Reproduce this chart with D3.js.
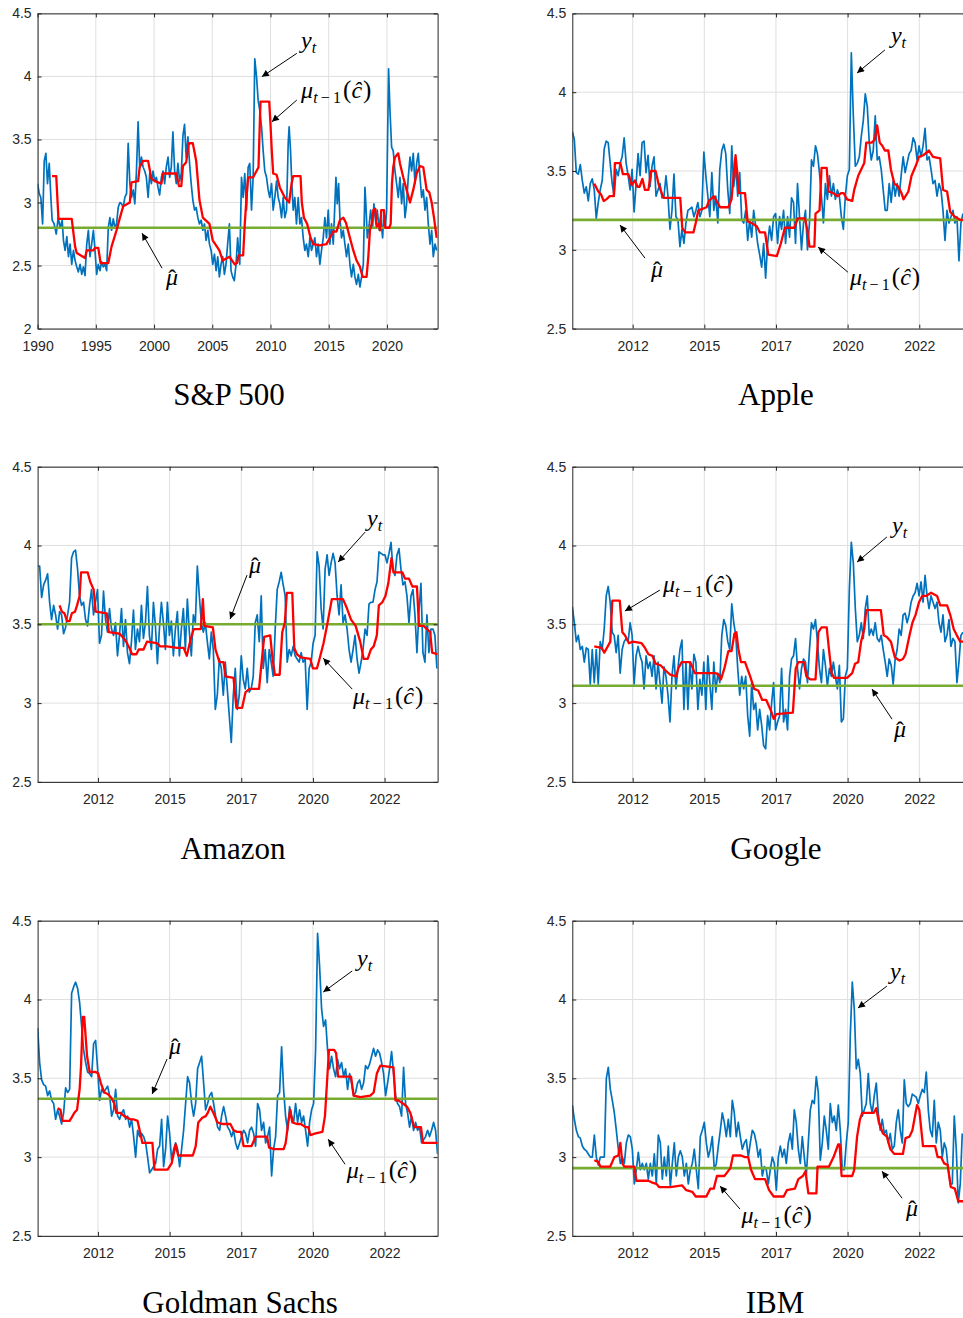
<!DOCTYPE html>
<html>
<head>
<meta charset="utf-8">
<script src="https://cdn.jsdelivr.net/npm/d3@7/dist/d3.min.js"></script>
<style>
html,body{margin:0;padding:0;background:#fff;}
svg{display:block;}
.tick text{font-family:"Liberation Sans",Arial,sans-serif;font-size:14px;fill:#262626;}
.tick line{stroke:#262626;}
.domain{stroke:#262626;}
</style>
</head>
<body>
<svg id="chart" width="963" height="1318"></svg>
<script>
// ---------------- DATA ----------------
const spxXTicks = [1990,1995,2000,2005,2010,2015,2020];
const spxXLabels = ["1990","1995","2000","2005","2010","2015","2020"];
const spxYTicks = [2,2.5,3,3.5,4,4.5];
const spxYLabels = ["2","2.5","3","3.5","4","4.5"];
const stockXTicks = [2012.5,2015,2017.5,2020,2022.5];
const stockXLabels = ["2012","2015","2017","2020","2022"];
const stockYTicks = [2.5,3,3.5,4,4.5];
const stockYLabels = ["2.5","3","3.5","4","4.5"];
const titles = ["S&P 500","Apple","Amazon","Google","Goldman Sachs","IBM"];

// S&P 500: [year, value]
const spxBlue = [[1990.00,3.15],[1990.14,3.07],[1990.28,3.04],[1990.43,2.83],[1990.57,3.33],[1990.71,3.39],[1990.85,3.15],[1991.00,3.31],[1991.14,3.04],[1991.25,2.86],[1991.42,2.83],[1991.60,2.75],[1991.77,2.88],[1991.94,2.80],[1992.11,2.86],[1992.22,2.70],[1992.36,2.62],[1992.51,2.73],[1992.65,2.57],[1992.79,2.67],[1992.93,2.51],[1993.08,2.62],[1993.22,2.54],[1993.36,2.49],[1993.50,2.45],[1993.65,2.51],[1993.79,2.43],[1993.93,2.49],[1994.07,2.42],[1994.22,2.67],[1994.36,2.78],[1994.50,2.57],[1994.64,2.67],[1994.79,2.78],[1994.93,2.62],[1995.07,2.43],[1995.21,2.51],[1995.36,2.46],[1995.50,2.53],[1995.64,2.49],[1995.78,2.51],[1995.93,2.46],[1996.07,2.80],[1996.21,2.88],[1996.35,2.78],[1996.50,2.87],[1996.64,2.80],[1996.78,2.83],[1996.92,2.96],[1997.07,3.00],[1997.21,2.99],[1997.35,2.96],[1997.49,3.04],[1997.64,3.07],[1997.78,3.47],[1997.92,3.15],[1998.06,3.04],[1998.21,3.10],[1998.35,2.99],[1998.49,3.25],[1998.63,3.64],[1998.77,3.28],[1998.92,3.36],[1999.06,3.28],[1999.20,3.25],[1999.34,3.20],[1999.49,3.04],[1999.63,3.23],[1999.77,3.15],[1999.91,3.25],[2000.06,3.17],[2000.20,3.20],[2000.34,3.12],[2000.48,3.06],[2000.63,3.20],[2000.77,3.25],[2000.91,3.15],[2001.05,3.28],[2001.20,3.36],[2001.34,3.20],[2001.48,3.28],[2001.62,3.56],[2001.77,3.25],[2001.91,3.15],[2002.05,3.31],[2002.19,3.17],[2002.34,3.23],[2002.48,3.53],[2002.62,3.62],[2002.76,3.36],[2002.91,3.52],[2003.05,3.31],[2003.19,3.15],[2003.33,3.02],[2003.48,2.94],[2003.62,2.96],[2003.76,2.88],[2003.90,2.83],[2004.05,2.86],[2004.19,2.78],[2004.33,2.83],[2004.47,2.70],[2004.62,2.78],[2004.76,2.67],[2004.90,2.62],[2005.04,2.51],[2005.19,2.59],[2005.33,2.46],[2005.47,2.57],[2005.61,2.41],[2005.75,2.51],[2005.90,2.57],[2006.04,2.43],[2006.18,2.51],[2006.32,2.67],[2006.47,2.83],[2006.61,2.46],[2006.75,2.41],[2006.89,2.38],[2007.04,2.51],[2007.18,2.72],[2007.36,2.51],[2007.51,3.20],[2007.65,3.04],[2007.79,3.23],[2007.94,2.94],[2008.08,3.28],[2008.22,3.31],[2008.37,2.94],[2008.51,3.20],[2008.65,4.14],[2008.80,4.00],[2008.94,3.81],[2009.08,3.73],[2009.23,3.60],[2009.37,3.41],[2009.51,3.25],[2009.66,3.20],[2009.80,3.10],[2009.94,3.04],[2010.09,3.15],[2010.23,2.94],[2010.37,3.04],[2010.52,3.17],[2010.66,3.04],[2010.80,2.99],[2010.95,2.88],[2011.09,3.04],[2011.23,2.88],[2011.38,2.94],[2011.52,3.47],[2011.60,3.60],[2011.72,3.41],[2011.83,3.15],[2011.95,2.94],[2012.09,3.04],[2012.23,2.83],[2012.38,3.04],[2012.52,2.83],[2012.66,2.88],[2012.81,2.72],[2012.95,2.62],[2013.09,2.67],[2013.24,2.57],[2013.38,2.72],[2013.52,2.62],[2013.67,2.67],[2013.81,2.72],[2013.95,2.57],[2014.10,2.67],[2014.24,2.51],[2014.38,2.62],[2014.53,2.72],[2014.67,2.88],[2014.81,2.72],[2014.96,2.94],[2015.10,2.67],[2015.24,2.83],[2015.39,2.67],[2015.62,3.20],[2015.73,2.99],[2015.85,3.15],[2015.96,2.88],[2016.10,2.72],[2016.25,2.78],[2016.39,2.67],[2016.53,2.57],[2016.68,2.67],[2016.82,2.51],[2016.96,2.41],[2017.11,2.51],[2017.25,2.41],[2017.39,2.35],[2017.54,2.43],[2017.68,2.33],[2017.82,2.41],[2017.97,2.51],[2018.11,3.12],[2018.19,2.99],[2018.31,2.72],[2018.48,2.83],[2018.60,2.94],[2018.77,2.80],[2018.88,2.99],[2019.05,2.83],[2019.17,2.94],[2019.34,2.78],[2019.46,2.88],[2019.63,2.72],[2019.74,2.94],[2019.86,2.80],[2019.97,2.94],[2020.14,4.06],[2020.26,3.73],[2020.40,3.44],[2020.54,3.41],[2020.69,3.25],[2020.83,3.15],[2020.97,3.04],[2021.12,3.20],[2021.26,2.99],[2021.40,3.15],[2021.55,2.88],[2021.69,2.99],[2021.83,3.20],[2021.98,3.36],[2022.12,3.25],[2022.26,3.39],[2022.41,3.15],[2022.55,3.31],[2022.69,3.39],[2022.84,3.20],[2022.98,3.04],[2023.12,3.10],[2023.27,2.94],[2023.41,3.04],[2023.55,2.83],[2023.70,2.67],[2023.84,2.78],[2023.98,2.57],[2024.13,2.67],[2024.27,2.62]];
const spxRed = [[1991.23,3.21],[1991.60,3.21],[1991.79,2.87],[1992.93,2.87],[1993.22,2.65],[1993.36,2.60],[1994.07,2.56],[1994.22,2.62],[1994.79,2.62],[1994.93,2.64],[1995.21,2.64],[1995.41,2.52],[1996.07,2.52],[1996.35,2.65],[1996.78,2.78],[1997.07,2.88],[1997.35,2.97],[1997.92,3.00],[1998.06,3.16],[1998.63,3.17],[1998.77,3.28],[1999.06,3.33],[1999.49,3.33],[1999.77,3.19],[2000.06,3.17],[2000.63,3.15],[2000.77,3.23],[2001.91,3.23],[2002.14,3.13],[2002.34,3.13],[2002.48,3.29],[2002.76,3.32],[2002.99,3.47],[2003.33,3.47],[2003.62,3.33],[2003.90,3.02],[2004.19,2.88],[2004.76,2.83],[2005.04,2.70],[2005.61,2.62],[2005.90,2.54],[2006.47,2.57],[2006.93,2.51],[2007.13,2.52],[2007.25,2.58],[2007.65,2.58],[2007.79,2.83],[2007.94,3.04],[2008.08,3.20],[2008.51,3.20],[2008.80,3.25],[2008.97,3.28],[2009.03,3.47],[2009.14,3.80],[2009.89,3.80],[2010.00,3.62],[2010.11,3.41],[2010.23,3.23],[2010.52,3.22],[2010.80,3.12],[2011.23,3.04],[2011.60,3.00],[2011.81,3.15],[2011.95,3.21],[2012.58,3.21],[2012.69,3.00],[2012.87,2.88],[2013.15,2.83],[2013.44,2.72],[2013.67,2.67],[2014.24,2.66],[2014.81,2.67],[2015.10,2.72],[2015.39,2.77],[2015.67,2.77],[2015.96,2.86],[2016.25,2.88],[2016.48,2.84],[2016.82,2.72],[2017.11,2.62],[2017.39,2.54],[2017.68,2.49],[2017.91,2.41],[2018.25,2.41],[2018.40,2.57],[2018.54,2.78],[2018.68,2.83],[2018.83,2.94],[2019.00,2.95],[2019.11,2.81],[2019.28,2.83],[2019.40,2.78],[2019.51,2.94],[2019.74,2.94],[2019.86,2.80],[2020.20,2.80],[2020.32,2.83],[2020.43,3.15],[2020.54,3.28],[2020.69,3.36],[2020.97,3.39],[2021.12,3.31],[2021.40,3.20],[2021.69,3.10],[2021.98,3.00],[2022.26,3.10],[2022.55,3.23],[2022.84,3.29],[2023.12,3.28],[2023.41,3.10],[2023.64,3.08],[2023.84,3.00],[2024.04,2.88],[2024.27,2.72]];
const spxMuHat = 2.80;

// Stocks: blue series sampled evenly over [start, end] years
const appleSpan = [2010.395, 2024.023];
const appleBlue = [3.75,3.70,3.49,3.48,3.54,3.44,3.36,3.40,3.31,3.42,3.45,3.38,3.20,3.30,3.38,3.44,3.64,3.69,3.68,3.55,3.42,3.34,3.51,3.47,3.55,3.59,3.71,3.55,3.47,3.38,3.51,3.24,3.42,3.61,3.47,3.68,3.69,3.49,3.60,3.40,3.53,3.59,3.34,3.38,3.42,3.33,3.34,3.47,3.34,3.13,3.25,3.48,3.21,3.19,3.02,3.13,3.04,3.17,3.25,3.26,3.27,3.21,3.25,3.30,3.21,3.25,3.62,3.47,3.34,3.21,3.49,3.25,3.34,3.17,3.51,3.63,3.67,3.61,3.38,3.23,3.66,3.40,3.53,3.34,3.49,3.19,3.17,3.25,3.06,3.19,3.08,3.25,3.15,3.04,2.97,2.89,3.04,2.82,3.04,3.15,3.06,3.21,3.23,3.04,3.21,3.13,3.25,3.04,3.21,3.08,3.33,3.30,3.04,3.42,3.21,3.00,3.17,3.25,3.00,3.17,3.57,3.53,3.66,3.61,3.49,3.34,3.17,3.42,3.32,3.47,3.34,3.42,3.32,3.38,3.34,3.21,3.13,3.34,3.47,3.51,4.25,3.85,3.53,3.55,3.59,3.72,3.82,3.99,3.91,3.68,3.57,3.63,3.85,3.57,3.59,3.51,3.38,3.25,3.25,3.42,3.30,3.44,3.34,3.42,3.34,3.47,3.59,3.49,3.55,3.61,3.63,3.71,3.68,3.57,3.66,3.59,3.66,3.77,3.57,3.59,3.51,3.42,3.44,3.34,3.42,3.38,3.25,3.06,3.25,3.17,3.21,3.25,3.17,3.21,2.93,3.17,3.23];
const appleRed = [[2011.16,3.42],[2011.30,3.37],[2011.40,3.35],[2011.49,3.31],[2011.58,3.32],[2011.70,3.34],[2011.84,3.34],[2011.88,3.55],[2012.07,3.55],[2012.16,3.48],[2012.35,3.48],[2012.47,3.41],[2012.58,3.44],[2012.67,3.40],[2012.74,3.40],[2012.84,3.45],[2012.93,3.38],[2013.05,3.38],[2013.14,3.50],[2013.30,3.50],[2013.40,3.42],[2013.47,3.38],[2013.58,3.33],[2014.16,3.33],[2014.23,3.14],[2014.33,3.11],[2014.62,3.11],[2014.70,3.17],[2014.79,3.25],[2014.93,3.26],[2015.08,3.27],[2015.16,3.31],[2015.33,3.34],[2015.43,3.31],[2015.55,3.27],[2015.84,3.27],[2015.95,3.32],[2016.02,3.47],[2016.09,3.60],[2016.16,3.47],[2016.21,3.36],[2016.42,3.36],[2016.51,3.18],[2016.65,3.17],[2016.83,3.15],[2016.94,3.11],[2017.12,3.11],[2017.23,2.97],[2017.53,2.96],[2017.67,3.04],[2017.81,3.14],[2018.14,3.14],[2018.26,3.20],[2018.51,3.20],[2018.60,3.12],[2018.67,3.02],[2018.84,3.02],[2018.88,3.23],[2019.02,3.25],[2019.09,3.52],[2019.27,3.52],[2019.33,3.37],[2019.50,3.36],[2019.65,3.34],[2019.77,3.36],[2019.86,3.36],[2019.98,3.32],[2020.16,3.31],[2020.23,3.38],[2020.37,3.47],[2020.58,3.55],[2020.65,3.68],[2020.84,3.68],[2020.95,3.70],[2021.03,3.79],[2021.12,3.68],[2021.21,3.66],[2021.30,3.63],[2021.42,3.63],[2021.51,3.51],[2021.63,3.42],[2021.77,3.40],[2021.88,3.36],[2021.95,3.32],[2022.12,3.37],[2022.23,3.47],[2022.37,3.53],[2022.49,3.59],[2022.64,3.60],[2022.84,3.63],[2022.98,3.59],[2023.23,3.58],[2023.33,3.38],[2023.47,3.37],[2023.58,3.24],[2023.74,3.21],[2023.92,3.19],[2024.10,3.19]];
const appleMuHat = 3.19;

const amazonSpan = [2010.395, 2024.326];
const amazonBlue = [3.87,3.87,3.67,3.75,3.78,3.82,3.64,3.53,3.62,3.56,3.47,3.58,3.56,3.44,3.48,3.56,3.64,3.92,3.96,3.97,3.85,3.68,3.62,3.64,3.53,3.49,3.62,3.72,3.56,3.64,3.72,3.38,3.43,3.71,3.53,3.45,3.60,3.47,3.43,3.51,3.30,3.43,3.60,3.36,3.53,3.32,3.25,3.39,3.59,3.34,3.47,3.39,3.62,3.41,3.51,3.74,3.43,3.34,3.64,3.49,3.25,3.47,3.64,3.51,3.34,3.64,3.43,3.52,3.30,3.47,3.58,3.30,3.47,3.60,3.34,3.66,3.45,3.30,3.56,3.51,3.87,3.68,3.51,3.45,3.51,3.39,3.28,3.45,3.34,2.96,3.05,3.28,3.22,3.05,3.26,3.09,2.92,2.75,3.05,3.22,2.96,3.05,3.30,3.15,3.09,3.22,3.07,3.09,3.17,3.51,3.56,3.39,3.68,3.22,3.34,3.13,3.34,3.26,3.17,3.47,3.72,3.77,3.83,3.75,3.68,3.26,3.34,3.30,3.36,3.30,3.28,3.26,3.32,3.26,3.28,2.96,3.22,3.26,3.38,3.43,3.96,3.87,3.60,3.47,3.85,3.94,3.81,3.89,3.95,3.89,3.68,3.56,3.75,3.51,3.56,3.47,3.34,3.26,3.34,3.43,3.28,3.19,3.26,3.34,3.47,3.43,3.63,3.64,3.64,3.72,3.77,3.96,3.95,3.94,3.94,3.89,3.95,4.02,3.85,3.81,3.94,3.98,3.85,3.75,3.77,3.68,3.51,3.68,3.72,3.56,3.32,3.58,3.76,3.32,3.26,3.56,3.32,3.47,3.47,3.43,3.22];
const amazonRed = [[2011.16,3.62],[2011.24,3.58],[2011.33,3.57],[2011.42,3.52],[2011.51,3.52],[2011.59,3.57],[2011.70,3.58],[2011.77,3.62],[2011.86,3.68],[2011.91,3.83],[2012.14,3.83],[2012.23,3.77],[2012.35,3.72],[2012.42,3.58],[2012.81,3.57],[2012.88,3.45],[2013.26,3.44],[2013.45,3.40],[2013.60,3.35],[2013.69,3.31],[2013.84,3.31],[2013.92,3.34],[2014.09,3.34],[2014.21,3.39],[2014.56,3.38],[2014.67,3.36],[2014.91,3.36],[2015.26,3.35],[2015.49,3.35],[2015.60,3.30],[2015.74,3.41],[2015.84,3.47],[2016.09,3.47],[2016.16,3.66],[2016.21,3.49],[2016.51,3.48],[2016.60,3.34],[2016.74,3.26],[2016.88,3.26],[2016.95,3.17],[2017.23,3.16],[2017.33,2.97],[2017.53,2.97],[2017.65,3.07],[2017.79,3.09],[2018.12,3.09],[2018.21,3.26],[2018.30,3.42],[2018.51,3.43],[2018.58,3.30],[2018.67,3.18],[2018.84,3.18],[2018.93,3.45],[2019.02,3.51],[2019.09,3.70],[2019.28,3.70],[2019.35,3.35],[2019.44,3.31],[2019.58,3.29],[2019.91,3.28],[2020.00,3.22],[2020.14,3.22],[2020.23,3.28],[2020.37,3.38],[2020.51,3.51],[2020.66,3.66],[2021.05,3.66],[2021.19,3.60],[2021.33,3.53],[2021.49,3.49],[2021.65,3.39],[2021.77,3.28],[2021.91,3.28],[2022.02,3.34],[2022.12,3.36],[2022.23,3.43],[2022.30,3.62],[2022.42,3.64],[2022.53,3.68],[2022.63,3.76],[2022.74,3.92],[2022.81,3.83],[2023.12,3.83],[2023.21,3.79],[2023.35,3.79],[2023.47,3.74],[2023.63,3.74],[2023.70,3.49],[2023.86,3.49],[2023.98,3.47],[2024.09,3.45],[2024.16,3.32],[2024.35,3.31]];
const amazonMuHat = 3.50;

const googleSpan = [2010.395, 2024.023];
const googleBlue = [3.61,3.51,3.39,3.43,3.34,3.36,3.26,3.35,3.34,3.12,3.34,3.13,3.34,3.12,3.39,3.34,3.47,3.68,3.74,3.64,3.45,3.43,3.32,3.43,3.19,3.34,3.39,3.41,3.39,3.51,3.43,3.12,3.30,3.36,3.30,3.26,3.09,3.30,3.22,3.26,3.17,3.30,3.09,3.26,3.13,3.00,3.23,3.17,3.05,2.88,3.17,3.30,3.09,3.22,3.34,3.40,2.96,3.26,2.96,3.26,3.09,3.31,3.26,2.96,3.15,3.05,3.26,2.96,3.30,3.13,2.96,3.26,3.07,3.19,3.13,3.43,3.53,3.49,3.39,3.34,3.63,3.51,3.43,3.22,3.05,3.17,3.09,3.17,2.92,2.79,3.13,2.96,3.00,2.83,2.96,2.86,2.73,2.71,2.92,2.83,3.00,3.13,2.83,2.88,2.92,3.22,2.88,2.96,2.83,3.17,3.28,3.30,3.41,3.22,3.09,3.22,3.28,3.26,3.13,3.34,3.51,3.47,3.53,3.39,3.22,3.13,3.34,3.24,3.11,3.22,3.17,3.26,3.17,3.09,3.24,2.88,2.90,3.17,3.22,3.72,4.02,3.89,3.60,3.39,3.43,3.51,3.41,3.60,3.68,3.43,3.47,3.43,3.51,3.41,3.39,3.43,3.34,3.26,3.17,3.28,3.24,3.12,3.28,3.34,3.47,3.43,3.56,3.57,3.51,3.56,3.64,3.68,3.70,3.76,3.68,3.77,3.64,3.81,3.68,3.60,3.68,3.64,3.60,3.64,3.51,3.45,3.56,3.39,3.43,3.53,3.36,3.41,3.39,3.13,3.26,3.43,3.45];
const googleRed = [[2011.16,3.36],[2011.42,3.35],[2011.51,3.32],[2011.60,3.35],[2011.72,3.39],[2011.79,3.65],[2012.05,3.65],[2012.14,3.45],[2012.23,3.43],[2012.37,3.38],[2012.51,3.39],[2012.81,3.38],[2012.93,3.35],[2013.05,3.31],[2013.19,3.30],[2013.30,3.25],[2013.47,3.24],[2013.63,3.21],[2013.81,3.18],[2014.02,3.17],[2014.09,3.22],[2014.21,3.26],[2014.51,3.26],[2014.67,3.19],[2015.40,3.19],[2015.51,3.18],[2015.58,3.15],[2015.70,3.22],[2015.84,3.33],[2015.95,3.33],[2016.05,3.44],[2016.12,3.45],[2016.19,3.34],[2016.28,3.26],[2016.42,3.26],[2016.60,3.17],[2016.74,3.09],[2016.88,3.08],[2017.02,3.02],[2017.16,3.02],[2017.33,2.95],[2017.42,2.90],[2017.51,2.93],[2018.09,2.94],[2018.19,3.22],[2018.28,3.26],[2018.47,3.26],[2018.56,3.17],[2018.70,3.15],[2018.88,3.15],[2018.98,3.45],[2019.09,3.48],[2019.27,3.48],[2019.35,3.34],[2019.44,3.19],[2019.53,3.16],[2019.98,3.16],[2020.16,3.19],[2020.26,3.25],[2020.37,3.26],[2020.47,3.39],[2020.58,3.47],[2020.65,3.59],[2021.16,3.59],[2021.26,3.43],[2021.37,3.42],[2021.51,3.39],[2021.65,3.29],[2021.81,3.27],[2021.93,3.28],[2022.02,3.31],[2022.16,3.43],[2022.26,3.51],[2022.37,3.56],[2022.49,3.64],[2022.60,3.68],[2022.74,3.68],[2022.91,3.70],[2023.12,3.68],[2023.23,3.62],[2023.47,3.62],[2023.58,3.56],[2023.70,3.47],[2023.81,3.43],[2023.93,3.39],[2024.10,3.39]];
const googleMuHat = 3.11;

const goldmanSpan = [2010.395, 2024.349];
const goldmanBlue = [3.82,3.60,3.49,3.46,3.45,3.39,3.42,3.36,3.34,3.24,3.30,3.26,3.21,3.28,3.44,3.41,3.43,4.04,4.08,4.11,4.07,3.98,3.83,3.68,3.60,3.54,3.53,3.51,3.72,3.74,3.56,3.36,3.43,3.41,3.43,3.45,3.39,3.26,3.30,3.43,3.26,3.24,3.28,3.30,3.24,3.26,3.19,3.24,3.13,3.00,3.17,3.13,3.15,3.13,3.09,3.00,2.90,2.92,2.94,2.96,3.05,3.07,3.24,2.94,3.05,3.26,3.15,2.98,3.05,3.09,3.05,2.94,3.05,3.17,3.34,3.51,3.47,3.34,3.26,3.34,3.56,3.60,3.64,3.47,3.30,3.34,3.39,3.41,3.34,3.26,3.19,3.17,3.26,3.32,3.26,3.19,3.17,3.13,3.17,3.09,3.05,3.09,3.13,3.17,3.15,3.09,3.17,3.19,3.15,3.07,3.34,3.30,3.17,3.22,3.09,3.13,3.19,2.88,3.05,3.13,3.39,3.41,3.70,3.43,3.26,3.17,3.32,3.26,3.22,3.34,3.22,3.30,3.22,3.26,3.17,3.07,3.22,3.30,3.34,3.68,4.42,4.21,3.94,3.83,3.87,3.68,3.56,3.64,3.56,3.51,3.62,3.56,3.60,3.51,3.56,3.43,3.53,3.47,3.39,3.41,3.47,3.49,3.43,3.47,3.58,3.56,3.59,3.64,3.69,3.64,3.68,3.66,3.60,3.53,3.39,3.47,3.56,3.67,3.53,3.39,3.34,3.32,3.26,3.57,3.34,3.28,3.19,3.26,3.17,3.22,3.17,3.19,3.09,3.11,3.13,3.17,3.13,3.17,3.22,3.17,3.02];
const goldmanRed = [[2011.09,3.31],[2011.19,3.30],[2011.26,3.23],[2011.51,3.23],[2011.58,3.25],[2011.67,3.28],[2011.77,3.30],[2011.86,3.43],[2011.91,3.58],[2011.97,3.89],[2012.02,3.89],[2012.12,3.64],[2012.21,3.54],[2012.42,3.54],[2012.51,3.53],[2012.60,3.47],[2012.72,3.41],[2012.84,3.40],[2012.95,3.38],[2013.07,3.34],[2013.14,3.28],[2013.28,3.28],[2013.42,3.26],[2013.63,3.24],[2013.74,3.24],[2013.88,3.23],[2013.98,3.15],[2014.05,3.09],[2014.40,3.09],[2014.47,2.92],[2014.93,2.92],[2015.07,2.96],[2015.21,3.08],[2015.30,3.01],[2015.81,3.01],[2015.91,3.07],[2016.00,3.22],[2016.14,3.25],[2016.26,3.26],[2016.33,3.28],[2016.42,3.32],[2016.53,3.28],[2016.67,3.22],[2016.84,3.21],[2017.12,3.21],[2017.23,3.17],[2017.35,3.16],[2017.49,3.16],[2017.58,3.07],[2017.86,3.07],[2018.00,3.13],[2018.40,3.13],[2018.47,3.06],[2018.65,3.05],[2018.98,3.05],[2019.05,3.09],[2019.14,3.22],[2019.21,3.30],[2019.28,3.22],[2019.44,3.21],[2019.58,3.21],[2019.74,3.19],[2019.84,3.19],[2019.91,3.14],[2020.09,3.15],[2020.33,3.16],[2020.42,3.26],[2020.49,3.47],[2020.56,3.68],[2020.74,3.68],[2020.81,3.66],[2020.88,3.51],[2021.33,3.51],[2021.42,3.39],[2021.65,3.38],[2022.00,3.39],[2022.12,3.41],[2022.23,3.53],[2022.35,3.58],[2022.81,3.57],[2022.88,3.36],[2022.98,3.36],[2023.14,3.34],[2023.28,3.32],[2023.40,3.28],[2023.53,3.19],[2023.77,3.19],[2023.84,3.09],[2024.35,3.09]];
const goldmanMuHat = 3.37;

const ibmSpan = [2010.395, 2024.0];
const ibmBlue = [3.33,3.24,3.17,3.13,3.12,3.07,3.05,3.04,3.02,3.00,3.00,3.14,3.00,2.95,3.00,3.00,3.00,3.50,3.57,3.43,3.36,3.28,3.17,3.05,2.96,3.00,2.96,3.09,3.14,3.13,3.05,2.83,2.92,3.03,2.92,2.96,2.92,2.96,2.86,2.96,2.88,3.02,2.83,3.14,3.09,2.86,3.00,2.88,3.07,2.81,2.96,3.09,2.88,3.00,3.04,3.00,2.88,2.96,2.83,2.92,2.96,3.05,2.92,2.80,3.13,3.17,3.22,3.09,3.00,3.05,3.13,2.92,2.96,3.07,3.17,3.28,3.22,3.13,3.24,3.13,3.36,3.28,3.13,3.22,3.13,3.05,3.09,3.11,3.00,3.09,3.17,3.15,3.09,3.00,3.05,2.88,2.94,2.92,2.83,2.92,3.00,2.96,2.79,3.00,3.07,3.00,3.05,2.96,3.09,3.15,3.05,3.30,3.22,3.05,2.96,3.13,3.00,2.88,3.09,3.30,3.36,3.34,3.51,3.41,2.98,3.09,3.26,3.17,3.05,3.34,3.22,3.26,3.17,3.33,3.17,2.92,2.92,3.09,3.22,3.77,4.11,3.94,3.56,3.62,3.53,3.26,3.30,3.34,3.53,3.34,3.28,3.39,3.47,3.28,3.17,3.24,3.15,3.17,3.09,3.15,3.05,3.07,3.22,3.30,3.17,3.09,3.49,3.34,3.32,3.34,3.40,3.39,3.38,3.34,3.39,3.43,3.41,3.54,3.30,3.17,3.13,3.36,3.09,3.22,3.17,3.00,3.09,3.05,2.92,2.83,2.83,3.26,3.05,2.71,2.83,3.15];
const ibmRed = [[2011.16,2.98],[2011.30,2.97],[2011.37,2.94],[2011.72,2.94],[2011.86,3.00],[2012.00,3.01],[2012.07,3.09],[2012.14,2.96],[2012.21,2.94],[2012.56,2.94],[2012.63,2.85],[2013.05,2.85],[2013.16,2.84],[2013.33,2.83],[2013.42,2.81],[2013.81,2.81],[2014.23,2.82],[2014.37,2.79],[2014.58,2.78],[2014.70,2.75],[2015.07,2.75],[2015.21,2.80],[2015.33,2.80],[2015.44,2.88],[2015.70,2.88],[2015.91,2.93],[2016.00,3.01],[2016.28,3.01],[2016.42,3.00],[2016.53,3.00],[2016.63,2.92],[2016.77,2.86],[2017.12,2.86],[2017.26,2.79],[2017.42,2.75],[2017.77,2.75],[2017.88,2.79],[2018.16,2.80],[2018.28,2.86],[2018.44,2.88],[2018.53,2.91],[2018.63,2.77],[2018.91,2.77],[2018.95,2.94],[2019.35,2.94],[2019.51,3.00],[2019.67,3.08],[2019.72,3.08],[2019.79,2.88],[2020.16,2.88],[2020.23,2.92],[2020.33,3.13],[2020.43,3.24],[2020.51,3.28],[2020.91,3.28],[2021.00,3.31],[2021.09,3.22],[2021.23,3.15],[2021.37,3.13],[2021.49,3.05],[2021.63,3.02],[2021.93,3.02],[2022.02,3.12],[2022.16,3.13],[2022.26,3.17],[2022.42,3.33],[2022.50,3.30],[2022.63,3.07],[2023.05,3.07],[2023.14,3.00],[2023.26,3.00],[2023.37,2.96],[2023.49,2.95],[2023.60,2.81],[2023.74,2.80],[2023.86,2.72],[2024.10,2.72]];
const ibmMuHat = 2.93;

// Annotation anchors in data units: [x, y]; arrows: [x1, y1, x2, y2] (tip at x2, y2)
const spxNotes   = {yt:[2012.63,4.225], mu:[2012.63,3.83], hat:[2001.55,2.344]};
const spxArrows  = [[2012.26,4.183,2009.26,3.998],[2012.26,3.813,2010.12,3.640],[2000.69,2.479,1998.97,2.757]];
const appleNotes = {yt:[2021.51,4.312], mu:[2020.08,2.776], hat:[2013.35,2.826]};
const appleArrows = [[2021.30,4.268,2020.33,4.122],[2020.01,2.858,2018.97,3.017],[2012.93,2.947,2012.06,3.157]];
const amazonNotes = {yt:[2021.89,4.123], mu:[2021.40,2.995], hat:[2017.98,3.825]};
const amazonArrows = [[2021.82,4.085,2020.88,3.895],[2021.37,3.089,2020.36,3.285],[2017.70,3.812,2017.11,3.533]];
const googleNotes = {yt:[2021.55,4.079], mu:[2013.56,3.704], hat:[2021.83,2.784]};
const googleArrows = [[2021.37,4.054,2020.33,3.895],[2013.45,3.717,2012.23,3.584],[2021.55,2.898,2020.85,3.089]];
const goldmanNotes = {yt:[2021.54,4.212], mu:[2021.18,2.866], hat:[2015.19,3.654]};
const goldmanArrows = [[2021.37,4.181,2020.36,4.047],[2021.12,2.955,2020.53,3.114],[2014.91,3.622,2014.39,3.40]];
const ibmNotes = {yt:[2021.48,4.13], mu:[2016.30,2.581], hat:[2022.25,2.625]};
const ibmArrows = [[2021.37,4.085,2020.36,3.946],[2016.245,2.67,2015.55,2.816],[2021.90,2.739,2021.20,2.911]];

// ---------------- DRAW ----------------
const svg = d3.select("#chart");
const defs = svg.append("defs");
defs.append("marker").attr("id","ah").attr("viewBox","0 0 10 10")
  .attr("refX",10).attr("refY",5).attr("markerWidth",9).attr("markerHeight",7)
  .attr("markerUnits","userSpaceOnUse").attr("orient","auto")
  .append("path").attr("d","M0,0L10,5L0,10z").attr("fill","#000");

const PW = 400, PH = 315.2;
const ROWS = [13.4, 466.7, 920.7], COLS = [37.6, 572.3];
const stockDomain = [2010.394, 2024.35];
const spread = (vals, span) => vals.map((v,i) => [span[0] + i*(span[1]-span[0])/(vals.length-1), v]);

const panels = [
  {id:0, left:COLS[0], top:ROWS[0], titleX:229, blue:spxBlue, red:spxRed, mu:spxMuHat, xDomain:[1990,2024.35], yDomain:[2,4.5], xTicks:spxXTicks, xLabels:spxXLabels, yTicks:spxYTicks, yLabels:spxYLabels, notes:spxNotes, arrows:spxArrows},
  {id:1, left:COLS[1], top:ROWS[0], titleX:776, blue:spread(appleBlue,appleSpan), red:appleRed, mu:appleMuHat, xDomain:stockDomain, yDomain:[2.5,4.5], xTicks:stockXTicks, xLabels:stockXLabels, yTicks:stockYTicks, yLabels:stockYLabels, notes:appleNotes, arrows:appleArrows},
  {id:2, left:COLS[0], top:ROWS[1], titleX:233, blue:spread(amazonBlue,amazonSpan), red:amazonRed, mu:amazonMuHat, xDomain:stockDomain, yDomain:[2.5,4.5], xTicks:stockXTicks, xLabels:stockXLabels, yTicks:stockYTicks, yLabels:stockYLabels, notes:amazonNotes, arrows:amazonArrows},
  {id:3, left:COLS[1], top:ROWS[1], titleX:776, blue:spread(googleBlue,googleSpan), red:googleRed, mu:googleMuHat, xDomain:stockDomain, yDomain:[2.5,4.5], xTicks:stockXTicks, xLabels:stockXLabels, yTicks:stockYTicks, yLabels:stockYLabels, notes:googleNotes, arrows:googleArrows},
  {id:4, left:COLS[0], top:ROWS[2], titleX:240, blue:spread(goldmanBlue,goldmanSpan), red:goldmanRed, mu:goldmanMuHat, xDomain:stockDomain, yDomain:[2.5,4.5], xTicks:stockXTicks, xLabels:stockXLabels, yTicks:stockYTicks, yLabels:stockYLabels, notes:goldmanNotes, arrows:goldmanArrows},
  {id:5, left:COLS[1], top:ROWS[2], titleX:775, blue:spread(ibmBlue,ibmSpan), red:ibmRed, mu:ibmMuHat, xDomain:stockDomain, yDomain:[2.5,4.5], xTicks:stockXTicks, xLabels:stockXLabels, yTicks:stockYTicks, yLabels:stockYLabels, notes:ibmNotes, arrows:ibmArrows}
];

const SERIF = '"Liberation Serif","Times New Roman",serif';

function drawPanel(p){
  const L = p.left, T = p.top;
  const x = d3.scaleLinear().domain(p.xDomain).range([L, L+PW]);
  const y = d3.scaleLinear().domain(p.yDomain).range([T+PH, T]);
  const g = svg.append("g");
  const cid = "clip"+p.id;
  defs.append("clipPath").attr("id",cid).append("rect").attr("x",L).attr("y",T).attr("width",PW).attr("height",PH);

  // grid
  g.append("g").selectAll("line").data(p.xTicks).join("line")
    .attr("x1",d=>x(d)).attr("x2",d=>x(d)).attr("y1",T).attr("y2",T+PH)
    .attr("stroke","#dfdfdf").attr("stroke-width",1);
  g.append("g").selectAll("line").data(p.yTicks).join("line")
    .attr("y1",d=>y(d)).attr("y2",d=>y(d)).attr("x1",L).attr("x2",L+PW)
    .attr("stroke","#dfdfdf").attr("stroke-width",1);

  const line = d3.line().x(d=>x(d[0])).y(d=>y(d[1]));
  const plot = g.append("g").attr("clip-path",`url(#${cid})`);
  plot.append("path").datum(p.blue).attr("d",line).attr("fill","none")
    .attr("stroke","#0072BD").attr("stroke-width",1.7).attr("stroke-linejoin","round");
  plot.append("path").datum(p.xDomain.map(v=>[v,p.mu])).attr("d",line).attr("fill","none")
    .attr("stroke","#77AC30").attr("stroke-width",2.6);
  plot.append("path").datum(p.red).attr("d",line).attr("fill","none")
    .attr("stroke","#FF0000").attr("stroke-width",2.3).attr("stroke-linejoin","round");

  // axes (box with inward ticks)
  g.append("g").attr("transform",`translate(0,${T+PH})`)
    .call(d3.axisBottom(x).tickValues(p.xTicks).tickFormat((d,i)=>p.xLabels[i]).tickSizeInner(-4).tickSizeOuter(0).tickPadding(12));
  g.append("g").attr("transform",`translate(0,${T})`)
    .call(d3.axisTop(x).tickValues(p.xTicks).tickFormat("").tickSizeInner(-4).tickSizeOuter(0));
  g.append("g").attr("transform",`translate(${L},0)`)
    .call(d3.axisLeft(y).tickValues(p.yTicks).tickFormat((d,i)=>p.yLabels[i]).tickSizeInner(-4).tickSizeOuter(0).tickPadding(6));
  g.append("g").attr("transform",`translate(${L+PW},0)`)
    .call(d3.axisRight(y).tickValues(p.yTicks).tickFormat("").tickSizeInner(-4).tickSizeOuter(0));

  // arrows
  g.append("g").selectAll("line").data(p.arrows).join("line")
    .attr("x1",d=>x(d[0])).attr("y1",d=>y(d[1])).attr("x2",d=>x(d[2])).attr("y2",d=>y(d[3]))
    .attr("stroke","#000").attr("stroke-width",1).attr("marker-end","url(#ah)");

  // y_t label
  const yt = g.append("text").attr("x",x(p.notes.yt[0])).attr("y",y(p.notes.yt[1]))
    .attr("font-family",SERIF).attr("fill","#000");
  yt.append("tspan").attr("font-style","italic").attr("font-size",24).text("y");
  yt.append("tspan").attr("font-style","italic").attr("font-size",16).attr("dy",5).text("t");

  // mu_{t-1}(c-hat) label
  const mu = g.append("text").attr("x",x(p.notes.mu[0])).attr("y",y(p.notes.mu[1]))
    .attr("font-family",SERIF).attr("fill","#000");
  mu.append("tspan").attr("font-style","italic").attr("font-size",24).text("μ");
  mu.append("tspan").attr("font-style","italic").attr("font-size",16).attr("dy",5).text("t");
  mu.append("tspan").attr("font-size",16).text("\u2009−\u20091");
  mu.append("tspan").attr("font-size",25).attr("dy",-5).attr("dx",2).text("(");
  mu.append("tspan").attr("font-style","italic").attr("font-size",24).text("ĉ");
  mu.append("tspan").attr("font-size",25).attr("dx",1).text(")");

  // mu-hat label (single text: mu with hat glyph shifted back over it)
  const hat = g.append("text").attr("x",x(p.notes.hat[0]) - 6).attr("y",y(p.notes.hat[1]))
    .attr("font-family",SERIF).attr("font-size",24).attr("fill","#000");
  hat.append("tspan").attr("font-style","italic").text("μ");
  hat.append("tspan").attr("dx",-10).attr("dy",1).text("ˆ");

  // title
  g.append("text").attr("x",p.titleX).attr("y",T+PH+76.6).attr("text-anchor","middle")
    .attr("font-family",SERIF).attr("font-size",31).attr("fill","#000").text(titles[p.id]);
}

panels.forEach(drawPanel);
</script>
</body>
</html>
